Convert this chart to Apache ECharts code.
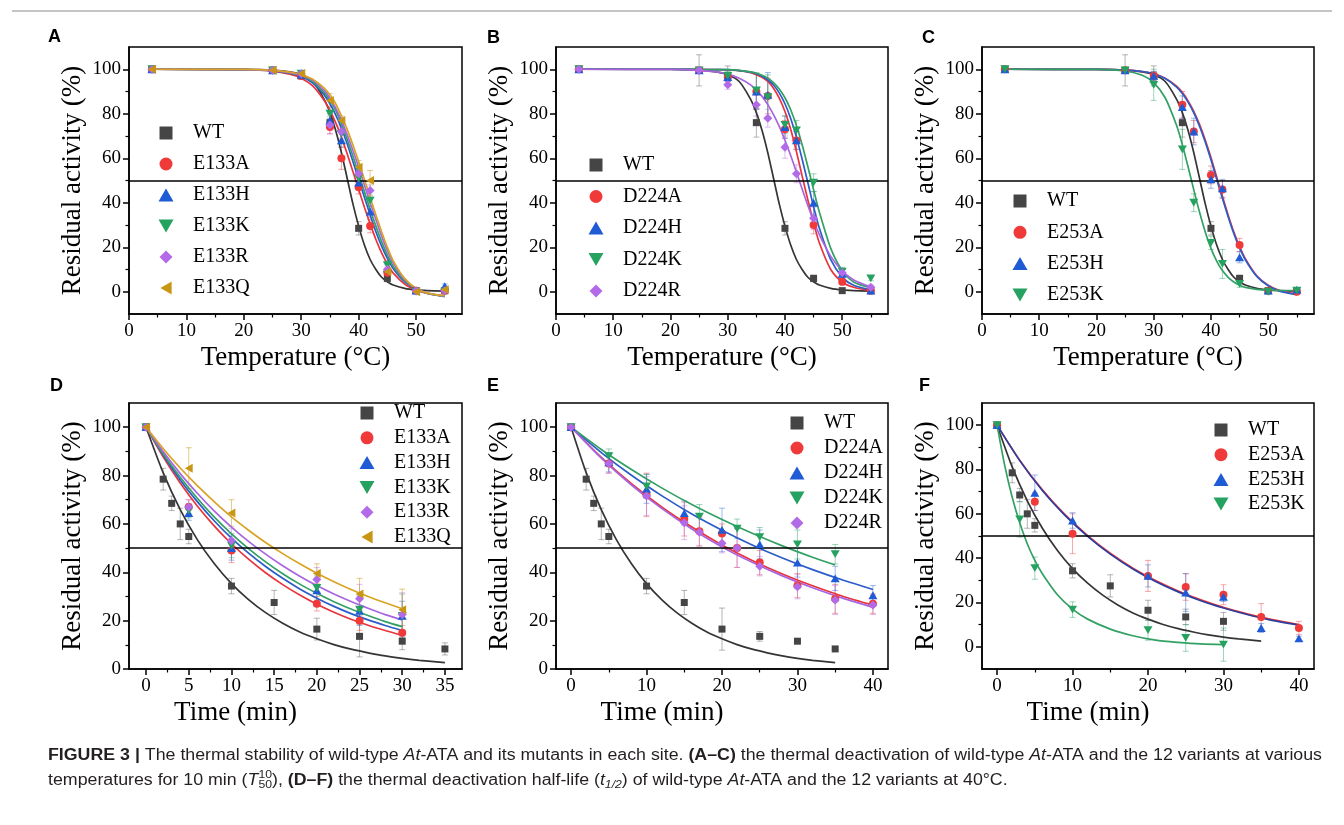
<!DOCTYPE html>
<html><head><meta charset="utf-8">
<script src="https://cdn.jsdelivr.net/npm/echarts@6.0.0/dist/echarts.min.js"></script>
<style>html,body{margin:0;padding:0;background:#fff}#c{width:1344px;height:825px}</style>
</head><body><div id="c"></div>
<script>
const SERIF = '"Liberation Serif","Times New Roman",serif';
const SANS = '"Liberation Sans",Arial,sans-serif';

// ---------------- DATA ----------------
// Temperature panels (A-C)
const tempWtX = [4, 25, 30, 35, 40, 45, 50, 55];
const tempWtY = [100, 99.5, 97, 76, 28.5, 6, 0.5, 0.5];
const tempWtErrA = [0.5, 1, 1, 2, 3, 1.5, 0.5, 0.5];
const tempWtErrBC = [0.5, 7, 4.5, 6.5, 3, 1.5, 0.5, 0.5];
const tempMutX = [4, 25, 30, 35, 37, 40, 42, 45, 50, 55];

const e133aTY = [100, 99.5, 97, 74, 60, 47, 29.5, 8.5, 0.5, 0.5];
const e133hTY = [100, 99.5, 97.5, 77, 68, 49, 36, 10.5, 0.5, 2.5];
const e133kTY = [100, 99.5, 98, 80, 71, 51, 41, 12, 0, 0];
const e133rTY = [100, 99.5, 98, 75, 72, 53, 45.5, 10, 0.5, 0.5];
const e133qTY = [100, 99.5, 98, 86, 77, 56, 50, 9, 0, 1];
const e133aTE = [0.5, 1, 1, 3, 5, 3, 3, 2, 0.5, 0.5];
const e133hTE = [0.5, 1, 1, 3, 3, 3, 2.5, 2, 0.5, 1];
const e133kTE = [0.5, 1, 1, 3, 3, 3, 2.5, 2, 0.5, 1];
const e133rTE = [0.5, 1, 1, 4, 3, 3, 2.5, 2, 0.5, 1];
const e133qTE = [0.5, 1, 1, 3, 2, 3, 4.5, 2, 0.5, 1];

const d224aTY = [100, 99.5, 96.5, 90, 88, 73, 68, 30, 4.5, 0.5];
const d224hTY = [100, 99.5, 96.5, 90, 88.5, 74, 68, 40, 8, 0.5];
const d224kTY = [100, 99.5, 97, 90.5, 87.5, 75, 72.5, 49, 9, 6];
const d224rTY = [100, 99.5, 93, 84, 78, 65, 53, 33, 8.5, 2];
const d224aTE = [0.5, 1, 2, 8, 8, 4, 4, 4, 1.5, 0.5];
const d224hTE = [0.5, 1, 2, 8, 10, 5, 4, 5, 2, 1];
const d224kTE = [0.5, 1, 2, 8, 10, 4, 4.5, 4, 2, 1];
const d224rTE = [0.5, 1, 2, 5, 4, 5, 4, 5, 2, 1];

const e253aTY = [100, 99.5, 97, 84, 72, 52.5, 46, 21, 0.5, 0];
const e253hTY = [100, 99.5, 97, 83, 72, 50.5, 46.5, 15.5, 0.5, 1];
const e253kTY = [100, 99.5, 93, 64, 40, 22, 12.5, 3.5, 0, 0.5];
const e253aTE = [0.5, 1, 2, 6, 5, 4, 4, 3, 1, 0.5];
const e253hTE = [0.5, 1, 2, 5, 6, 4, 4, 2.5, 1, 0.5];
const e253kTE = [0.5, 1, 7, 9, 4, 3, 6.5, 1.5, 0.5, 0.5];

// fitted curves
const tempFitX = [4, 20, 25, 28, 30, 32, 34, 35, 36, 37, 38, 39, 40, 41, 42, 43, 44, 45, 46, 48, 50, 52, 55];
const wtTFit    = [100, 99.9, 99.6, 98.8, 97.5, 94.5, 86.5, 80.5, 72.5, 62.5, 51, 39.5, 29.5, 21, 14.5, 10, 6.5, 4.5, 3, 1.5, 0.8, 0.5, 0.3];
const e133aTFit = [100, 99.8, 99.2, 97.8, 96, 92.5, 86, 81.5, 76, 69.5, 62, 54, 46, 38, 30.5, 23.5, 17.5, 12.5, 8.5, 3.5, 0.8, -0.8, -2];
const e133hTFit = [100, 99.8, 99.3, 98.2, 96.7, 93.8, 88.5, 84.5, 79.5, 73.5, 66.5, 58.5, 50.5, 42.5, 34.5, 27, 20.5, 15, 10.5, 4.5, 1.2, -0.8, -2];
const e133kTFit = [100, 99.8, 99.4, 98.4, 97, 94.5, 89.5, 86, 81.5, 75.5, 68.5, 61, 53, 45, 37, 29.5, 22.5, 16.5, 11.5, 5, 1.3, -0.8, -2.2];
const e133rTFit = [100, 99.8, 99.4, 98.5, 97.3, 95, 90.5, 87, 82.5, 77, 70.5, 63.5, 56, 48, 40, 32.5, 25, 18.5, 13, 5.5, 1.5, -0.6, -2];
const e133qTFit = [100, 99.9, 99.5, 98.7, 97.6, 95.5, 91.5, 88.5, 84.5, 79, 73, 66, 58.5, 50.5, 42.5, 34.5, 27, 20, 14, 6, 1.5, -0.6, -1.8];
const d224aTFit = [100, 100, 99.9, 99.8, 99.7, 99.4, 98.5, 97.6, 96.4, 94.5, 91.5, 87, 81, 73, 63, 52, 41.3, 31, 22, 10, 4.4, 2, 0.5];
const d224hTFit = [100, 100, 99.9, 99.8, 99.8, 99.4, 98.7, 98, 96.9, 95.3, 92.9, 89.4, 84.5, 77.9, 69.6, 59.6, 49, 38.2, 28.7, 14.4, 6.6, 2.9, 0.8];
const d224kTFit = [100, 100, 99.9, 99.8, 99.8, 99.5, 98.8, 98.2, 97.3, 96, 94, 91.1, 87.2, 81.8, 74.7, 66.1, 56.2, 45.8, 35.9, 19.5, 9.5, 4.4, 1.8];
const d224rTFit = [100, 99.9, 99.5, 98.8, 97.8, 96, 93, 90.6, 87.8, 84.1, 79.6, 74.3, 68.1, 61.2, 53.8, 46.2, 38.8, 31.9, 25.7, 15.9, 9.4, 5.3, 2.2];
const e253aTFit = [100, 99.9, 99.6, 99, 98, 96, 92.4, 89.6, 85.8, 81.1, 75.2, 68.2, 60.3, 51.6, 42.9, 34.5, 26.8, 20.3, 14.9, 7.2, 2.9, 0.5, -1.1];
const e253hTFit = [100, 99.9, 99.6, 99, 98, 95.8, 92, 89.1, 85.2, 80.4, 74.4, 67.3, 59.3, 50.6, 42, 33.7, 26.1, 19.7, 14.4, 6.9, 2.7, 0.3, -1.3];
const e253kTFit = [100, 99.9, 99.2, 97.3, 94, 87.2, 74.7, 66.1, 56.2, 45.8, 35.8, 26.9, 19.5, 13.8, 9.5, 6.5, 4.4, 2.9, 2, 1.1, 0.7, 0.6, 0.5];

// Time panels (D-F)
const timeWtX = [0, 2, 3, 4, 5, 10, 15, 20, 25, 30, 35];
const timeWtY = [100, 78.5, 68.5, 60, 54.8, 34.3, 27.5, 16.5, 13.5, 11.5, 8.3];
const timeWtErrD = [0.5, 4.5, 3, 6.5, 3, 3.2, 5, 4.5, 8.5, 3.5, 2.5];
const timeWtErrE = [0.5, 4.5, 3, 6.5, 3, 3.2, 5, 8.7, 2, 0.5, 0.5];
const timeWtErrF = [0.5, 4.5, 3, 6.5, 3, 3.2, 5, 4.5, 3.5, 4, 0.5];
const timeWtFitX = [0, 2, 4, 6, 8, 10, 12, 14, 16, 18, 20, 22, 24, 26, 28, 30, 32, 35];
const timeWtFit  = [100, 81.2, 65.9, 53.5, 43.5, 35.3, 28.7, 23.3, 18.9, 15.3, 12.5, 10.1, 8.2, 6.7, 5.4, 4.4, 3.6, 2.6];

const timeDX = [0, 5, 10, 20, 25, 30];
const e133aDY = [100, 67, 49, 27, 20, 15];
const e133hDY = [100, 64.5, 50, 32.5, 24, 22];
const e133kDY = [100, 65.5, 51, 33.5, 24.5, 22];
const e133rDY = [100, 67, 53, 37, 29, 22.5];
const e133qDY = [100, 83, 64.5, 39.5, 31, 24.5];
const e133aDE = [0.5, 3, 5, 3, 4, 3];
const e133hDE = [0.5, 3, 5, 5, 6, 6];
const e133kDE = [0.5, 3, 5, 5, 6, 9];
const e133rDE = [0.5, 3, 5, 5, 6, 9];
const e133qDE = [0.5, 8.5, 5.5, 4, 6.5, 8.5];
const timeDFitX = [0, 2, 4, 6, 8, 10, 12, 14, 16, 18, 20, 22, 24, 26, 28, 30];
const e133aDFit = [100, 87.7, 76.9, 67.4, 59.1, 51.8, 45.4, 39.8, 34.9, 30.6, 26.8, 23.5, 20.6, 18.1, 15.9, 13.9];
const e133hDFit = [100, 88.5, 78.2, 69.2, 61.2, 54.1, 47.9, 42.4, 37.5, 33.1, 29.3, 25.9, 22.9, 20.3, 18, 15.9];
const e133kDFit = [100, 89, 79.3, 70.6, 62.8, 55.9, 49.8, 44.3, 39.4, 35.1, 31.3, 27.8, 24.8, 22.1, 19.6, 17.5];
const e133rDFit = [100, 89.9, 80.8, 72.7, 65.3, 58.7, 52.8, 47.5, 42.7, 38.4, 34.5, 31, 27.9, 25.1, 22.5, 20.3];
const e133qDFit = [100, 91.2, 83.1, 75.8, 69.1, 62.9, 57.4, 52.3, 47.7, 43.5, 39.6, 36.1, 32.9, 30, 27.4, 24.9];

const timeEX_AR = [0, 5, 10, 15, 17, 20, 22, 25, 30, 35, 40];
const d224aEY = [100, 85, 72, 62, 57, 56, 50, 44, 34.5, 29, 27];
const d224rEY = [100, 85, 71.5, 60.5, 56.5, 52, 50, 42.5, 34, 28.5, 26.5];
const d224aEE = [0.5, 4, 9, 7, 6, 4, 8, 5, 5, 6, 4];
const d224rEE = [0.5, 4, 8, 7, 6, 4, 8, 4, 5, 6, 4];
const timeEX_H = [0, 5, 10, 15, 20, 25, 30, 35, 40];
const d224hEY = [100, 85.5, 74.5, 64.5, 57.5, 51.5, 44, 37.5, 30.5];
const d224hEE = [0.5, 4, 6, 5, 9, 6, 6, 5, 4];
const timeEX_K = [0, 5, 10, 17, 22, 25, 30, 35];
const d224kEY = [100, 88, 75.5, 63, 58, 54.5, 51.5, 47.5];
const d224kEE = [0.5, 3, 5, 5, 4, 4, 6, 4];
const timeEFitX = [0, 4, 8, 12, 16, 20, 24, 28, 32, 36, 40];
const d224aEFit = [100, 87.5, 76.6, 67, 58.7, 51.3, 44.9, 39.3, 34.4, 30.1, 26.4];
const d224rEFit = [100, 87.2, 76.1, 66.4, 57.9, 50.5, 44.1, 38.5, 33.6, 29.3, 25.5];
const d224hEFit = [100, 89.5, 80.1, 71.7, 64.1, 57.4, 51.3, 45.9, 41.1, 36.8, 32.9];
const timeEFitXK = [0, 4, 8, 12, 16, 20, 24, 28, 32, 35];
const d224kEFit = [100, 90.8, 82.5, 74.9, 68, 61.8, 56.1, 50.9, 46.2, 43];

const timeFX_AH = [0, 5, 10, 20, 25, 30, 35, 40];
const e253aFY = [100, 65.5, 51, 32, 27, 23.5, 13.5, 8.5];
const e253hFY = [100, 69.5, 57, 32, 24.5, 22.5, 8.5, 3.8];
const e253aFE = [0.5, 4, 9, 7, 6, 4.5, 6, 3];
const e253hFE = [0.5, 8, 3.5, 5, 8.5, 2, 2, 1];
const timeFX_K = [0, 3, 5, 10, 20, 25, 30];
const e253kFY = [100, 57.5, 35.5, 16.8, 7.5, 4, 1];
const e253kFE = [0.5, 8, 5, 3.5, 4.5, 6, 7.5];
const timeFFitX = [0, 3, 6, 9, 12, 15, 18, 21, 24, 27, 30, 33, 36, 40];
const e253aFFit = [100, 84.2, 70.8, 59.6, 50.2, 42.2, 35.5, 29.9, 25.2, 21.2, 17.8, 15, 12.6, 10];
const e253hFFit = [100, 84, 70.5, 59.3, 49.8, 41.8, 35.1, 29.5, 24.8, 20.8, 17.5, 14.7, 12.3, 9.8];
const timeFFitXK = [0, 1, 2, 3, 4, 5, 6, 8, 10, 12, 15, 18, 21, 24, 27, 30];
const e253kFFit = [100, 82, 67.5, 56, 46.5, 39, 33, 23.5, 17, 12.5, 8, 5, 3, 2, 1.3, 1];

// tick labels
const tempTicks = [0, 10, 20, 30, 40, 50];
const tempMinor = [5, 15, 25, 35, 45, 55];
const timeTicksD = [0, 5, 10, 15, 20, 25, 30, 35];
const timeMinorD = [2.5, 7.5, 12.5, 17.5, 22.5, 27.5, 32.5];
const timeTicksEF = [0, 10, 20, 30, 40];
const timeMinorEF = [5, 15, 25, 35];
const yTicks = [0, 20, 40, 60, 80, 100];
const yMinor = [10, 30, 50, 70, 90];

// ---------------- STYLE ----------------
const COL = {
  wt: {p:'#454545', l:'#353535', e:'rgba(90,90,90,0.45)', s:'path://M0,0L10,0L10,10L0,10Z', sz: 7},
  red: {p:'#f03a3a', l:'#e8343c', e:'rgba(240,60,60,0.45)', s:'circle', sz: 8},
  blue: {p:'#1f5bd4', l:'#2b5cc9', e:'rgba(40,100,210,0.45)', s:'path://M5,0L10,8.66L0,8.66Z', sz: 9},
  green: {p:'#25a25f', l:'#33a064', e:'rgba(40,160,100,0.45)', s:'path://M0,0L10,0L5,8.66Z', sz: 9},
  purple: {p:'#b36ae8', l:'#a865e0', e:'rgba(180,110,230,0.45)', s:'path://M5,0L10,5L5,10L0,5Z', sz: 9},
  gold: {p:'#c99514', l:'#d9a323', e:'rgba(200,150,20,0.5)', s:'path://M8.66,0L8.66,10L0,5Z', sz: 9}
};

function pts(xs, ys) { return xs.map((x, i) => [x, ys[i]]); }
function errs(xs, ys, es) { return xs.map((x, i) => [x, ys[i], es[i]]); }

function errRender(params, api) {
  const x = api.value(0), y = api.value(1), e = api.value(2);
  const t = api.coord([x, y + e]), b = api.coord([x, y - e]);
  const hw = 3;
  const st = {stroke: api.visual('color'), lineWidth: 1};
  return {type: 'group', children: [
    {type: 'line', shape: {x1: t[0], y1: t[1], x2: b[0], y2: b[1]}, style: st},
    {type: 'line', shape: {x1: t[0] - hw, y1: t[1], x2: t[0] + hw, y2: t[1]}, style: st},
    {type: 'line', shape: {x1: b[0] - hw, y1: b[1], x2: b[0] + hw, y2: b[1]}, style: st}
  ]};
}

const option = {animation: false, backgroundColor: '#ffffff', grid: [], xAxis: [], yAxis: [], legend: [], series: [], graphic: []};

function axisMain(gi, min, max, ticks, name, gap, pad) {
  return {
    gridIndex: gi, type: 'value', min: min, max: max,
    axisLine: {show: true, onZero: false, lineStyle: {color: '#000', width: 1.5}},
    axisTick: {show: true, length: 6, customValues: ticks, lineStyle: {color: '#000', width: 1.5}},
    axisLabel: {show: true, customValues: ticks, color: '#000', fontFamily: SERIF, fontSize: 19, margin: 8, hideOverlap: false},
    splitLine: {show: false},
    name: name, nameLocation: 'middle', nameGap: gap,
    nameTextStyle: {fontFamily: SERIF, fontSize: 27, color: '#000', padding: pad || 0}
  };
}
function axisMinor(gi, min, max, ticks, pos) {
  return {
    gridIndex: gi, type: 'value', min: min, max: max, position: pos, offset: 0,
    axisLine: {show: false, onZero: false},
    axisTick: {show: true, length: 3.5, customValues: ticks, lineStyle: {color: '#000', width: 1.2}},
    axisLabel: {show: false}, splitLine: {show: false}
  };
}

function addPanel(p) {
  const gi = option.grid.length;
  option.grid.push({left: p.box[0], top: p.box[1], width: p.box[2], height: p.box[3], show: true,
    borderColor: '#000', borderWidth: 1.5, backgroundColor: 'transparent'});
  const xi = option.xAxis.length, yi = option.yAxis.length;
  option.xAxis.push(axisMain(gi, p.xr[0], p.xr[1], p.xt, p.xName, p.xGap, p.xPad));
  option.xAxis.push(axisMinor(gi, p.xr[0], p.xr[1], p.xm, 'bottom'));
  option.yAxis.push(axisMain(gi, p.yr[0], p.yr[1], yTicks, 'Residual activity (%)', 43));
  option.yAxis.push(axisMinor(gi, p.yr[0], p.yr[1], yMinor, 'left'));
  option.legend.push({
    orient: 'vertical', left: p.leg[0], top: p.leg[1], itemGap: p.leg[2], padding: 0,
    itemWidth: 44, itemHeight: 13, selectedMode: false, symbolKeepAspect: true,
    textStyle: {fontFamily: SERIF, fontSize: 20, color: '#000', lineHeight: 20},
    data: p.sets.map(s => s.name)
  });
  p.sets.forEach((s, k) => {
    const c = COL[s.c];
    option.series.push({type: 'custom', name: s.name + ' error', xAxisIndex: xi, yAxisIndex: yi,
      renderItem: errRender, data: errs(s.x, s.y, s.e), dimensions: ['x', 'y', 'err'],
      encode: {x: 0, y: 1}, itemStyle: {color: c.e}, z: 1, silent: true});
    const line = {type: 'line', name: s.name + ' fit', xAxisIndex: xi, yAxisIndex: yi,
      data: pts(s.fx, s.fy), showSymbol: false, symbol: 'none', smooth: 0.25,
      lineStyle: {color: s.lc || c.l, width: 1.7}, z: 2 + (s.lz || 0), silent: true};
    if (k === 0) {
      line.markLine = {silent: true, symbol: 'none', label: {show: false}, animation: false,
        lineStyle: {color: '#000', width: 1.6, type: 'solid'}, data: [{yAxis: 50}]};
    }
    option.series.push(line);
    option.series.push({type: 'scatter', name: s.name, xAxisIndex: xi, yAxisIndex: yi,
      data: pts(s.x, s.y), symbol: c.s, symbolSize: c.sz, symbolKeepAspect: true,
      itemStyle: {color: c.p, opacity: 1}, z: 5, silent: true});
  });
}

const TB = [47, 267], BB = [403, 266];
addPanel({box: [129, TB[0], 333, TB[1]], xr: [0, 58], yr: [-10, 110], xt: tempTicks, xm: tempMinor,
  xName: 'Temperature (°C)', xGap: 30, leg: [158.5, 123, 11],
  sets: [
    {name: 'WT', c: 'wt', x: tempWtX, y: tempWtY, e: tempWtErrA, fx: tempFitX, fy: wtTFit},
    {name: 'E133A', c: 'red', x: tempMutX, y: e133aTY, e: e133aTE, fx: tempFitX, fy: e133aTFit},
    {name: 'E133H', c: 'blue', x: tempMutX, y: e133hTY, e: e133hTE, fx: tempFitX, fy: e133hTFit},
    {name: 'E133K', c: 'green', x: tempMutX, y: e133kTY, e: e133kTE, fx: tempFitX, fy: e133kTFit},
    {name: 'E133R', c: 'purple', x: tempMutX, y: e133rTY, e: e133rTE, fx: tempFitX, fy: e133rTFit},
    {name: 'E133Q', c: 'gold', x: tempMutX, y: e133qTY, e: e133qTE, fx: tempFitX, fy: e133qTFit}
  ]});
addPanel({box: [556, TB[0], 332, TB[1]], xr: [0, 58], yr: [-10, 110], xt: tempTicks, xm: tempMinor,
  xName: 'Temperature (°C)', xGap: 30, leg: [588.5, 155, 11.5],
  sets: [
    {name: 'WT', c: 'wt', x: tempWtX, y: tempWtY, e: tempWtErrBC, fx: tempFitX, fy: wtTFit},
    {name: 'D224A', c: 'red', x: tempMutX, y: d224aTY, e: d224aTE, fx: tempFitX, fy: d224aTFit},
    {name: 'D224H', c: 'blue', x: tempMutX, y: d224hTY, e: d224hTE, fx: tempFitX, fy: d224hTFit},
    {name: 'D224K', c: 'green', x: tempMutX, y: d224kTY, e: d224kTE, fx: tempFitX, fy: d224kTFit},
    {name: 'D224R', c: 'purple', x: tempMutX, y: d224rTY, e: d224rTE, fx: tempFitX, fy: d224rTFit}
  ]});
addPanel({box: [982, TB[0], 332, TB[1]], xr: [0, 58], yr: [-10, 110], xt: tempTicks, xm: tempMinor,
  xName: 'Temperature (°C)', xGap: 30, leg: [1012.5, 191, 11.3],
  sets: [
    {name: 'WT', c: 'wt', x: tempWtX, y: tempWtY, e: tempWtErrBC, fx: tempFitX, fy: wtTFit},
    {name: 'E253A', c: 'red', x: tempMutX, y: e253aTY, e: e253aTE, fx: tempFitX, fy: e253aTFit},
    {name: 'E253H', c: 'blue', x: tempMutX, y: e253hTY, e: e253hTE, fx: tempFitX, fy: e253hTFit},
    {name: 'E253K', c: 'green', x: tempMutX, y: e253kTY, e: e253kTE, fx: tempFitX, fy: e253kTFit}
  ]});
addPanel({box: [129, BB[0], 333, BB[1]], xr: [-2, 37], yr: [0, 110], xt: timeTicksD, xm: timeMinorD,
  xName: 'Time (min)', xGap: 30, xPad: [0, 120, 0, 0], leg: [359.5, 403, 4.8],
  sets: [
    {name: 'WT', c: 'wt', x: timeWtX, y: timeWtY, e: timeWtErrD, fx: timeWtFitX, fy: timeWtFit},
    {name: 'E133A', c: 'red', x: timeDX, y: e133aDY, e: e133aDE, fx: timeDFitX, fy: e133aDFit},
    {name: 'E133H', c: 'blue', x: timeDX, y: e133hDY, e: e133hDE, fx: timeDFitX, fy: e133hDFit},
    {name: 'E133K', c: 'green', x: timeDX, y: e133kDY, e: e133kDE, fx: timeDFitX, fy: e133kDFit},
    {name: 'E133R', c: 'purple', x: timeDX, y: e133rDY, e: e133rDE, fx: timeDFitX, fy: e133rDFit},
    {name: 'E133Q', c: 'gold', x: timeDX, y: e133qDY, e: e133qDE, fx: timeDFitX, fy: e133qDFit}
  ]});
addPanel({box: [556, BB[0], 332, BB[1]], xr: [-2, 42], yr: [0, 110], xt: timeTicksEF, xm: timeMinorEF,
  xName: 'Time (min)', xGap: 30, xPad: [0, 120, 0, 0], leg: [789.5, 413, 5],
  sets: [
    {name: 'WT', c: 'wt', x: timeWtX, y: timeWtY, e: timeWtErrE, fx: timeWtFitX, fy: timeWtFit},
    {name: 'D224A', c: 'red', x: timeEX_AR, y: d224aEY, e: d224aEE, fx: timeEFitX, fy: d224aEFit},
    {name: 'D224H', c: 'blue', x: timeEX_H, y: d224hEY, e: d224hEE, fx: timeEFitX, fy: d224hEFit},
    {name: 'D224K', c: 'green', x: timeEX_K, y: d224kEY, e: d224kEE, fx: timeEFitXK, fy: d224kEFit},
    {name: 'D224R', c: 'purple', x: timeEX_AR, y: d224rEY, e: d224rEE, fx: timeEFitX, fy: d224rEFit}
  ]});
addPanel({box: [982, BB[0], 332, BB[1]], xr: [-2, 42], yr: [-10, 110], xt: timeTicksEF, xm: timeMinorEF,
  xName: 'Time (min)', xGap: 30, xPad: [0, 120, 0, 0], leg: [1213.5, 420, 4.7],
  sets: [
    {name: 'WT', c: 'wt', x: timeWtX.slice(0, 10), y: timeWtY.slice(0, 10), e: timeWtErrF, fx: timeWtFitX, fy: timeWtFit},
    {name: 'E253A', c: 'red', x: timeFX_AH, y: e253aFY, e: e253aFE, fx: timeFFitX, fy: e253aFFit},
    {name: 'E253H', c: 'blue', x: timeFX_AH, y: e253hFY, e: e253hFE, fx: timeFFitX, fy: e253hFFit, lc: '#2a3f9e', lz: 1},
    {name: 'E253K', c: 'green', x: timeFX_K, y: e253kFY, e: e253kFE, fx: timeFFitXK, fy: e253kFFit}
  ]});

// ---------------- GRAPHICS (panel letters, frame line, caption) ----------------
const letters = [['A', 48, 28], ['B', 487, 29], ['C', 922, 29], ['D', 50, 377], ['E', 487, 377], ['F', 919, 377]];
letters.forEach(l => option.graphic.push({type: 'text', left: l[1], top: l[2], silent: true,
  style: {text: l[0], font: 'bold 18px ' + SANS, fill: '#000'}}));
option.graphic.push({type: 'line', silent: true, shape: {x1: 12, y1: 11, x2: 1332, y2: 11},
  style: {stroke: '#8a8a8a', lineWidth: 1}});

const capLine1 = [
  {t: 'FIGURE 3 |', w: 'bold'}, {t: ' The thermal stability of wild-type '}, {t: 'At', s: 'italic'},
  {t: '-ATA and its mutants in each site. '}, {t: '(A–C)', w: 'bold'},
  {t: ' the thermal deactivation of wild-type '}, {t: 'At', s: 'italic'},
  {t: '-ATA and the 12 variants at various'}
];
const capLine2 = [
  {t: 'temperatures for 10 min ('}, {t: 'T', s: 'italic'}, {t: '10', sup: 1}, {t: '50', sub: 1},
  {t: '), '}, {t: '(D–F)', w: 'bold'}, {t: ' the thermal deactivation half-life ('},
  {t: 't', s: 'italic'}, {t: '1/2', sub: 1, s: 'italic'}, {t: ') of wild-type '}, {t: 'At', s: 'italic'},
  {t: '-ATA and the 12 variants at 40°C.'}
];
const CAP_SIZE = 16;
const mctx = document.createElement('canvas').getContext('2d');
function fontOf(tok) {
  const sz = (tok.sup || tok.sub) ? 11 : CAP_SIZE;
  return (tok.s || 'normal') + ' ' + (tok.w || 'normal') + ' ' + sz + 'px ' + SANS;
}
function layoutLine(tokens) {
  let x = 0, lastSupW = 0; const out = [];
  tokens.forEach(tok => {
    const f = fontOf(tok);
    mctx.font = f;
    const w = mctx.measureText(tok.t).width;
    let dy = 0;
    if (tok.sup) dy = -6;
    if (tok.sub) dy = 4;
    out.push({type: 'text', x: x, y: dy, silent: true,
      style: {text: tok.t, font: f, fill: '#231f20', verticalAlign: 'middle', align: 'left'}});
    if (tok.sup) { lastSupW = w; } else { x += tok.sub ? Math.max(w, lastSupW) : w; lastSupW = 0; }
  });
  return {children: out, width: x};
}
const L1 = layoutLine(capLine1), L2 = layoutLine(capLine2);
const capScale = 1274 / L1.width;
option.graphic.push({type: 'group', x: 48, y: 756, scaleX: capScale, children: L1.children, silent: true});
option.graphic.push({type: 'group', x: 48, y: 781, scaleX: capScale, children: L2.children, silent: true});

const chart = echarts.init(document.getElementById('c'), null, {renderer: 'canvas'});
chart.setOption(option);
</script></body></html>
